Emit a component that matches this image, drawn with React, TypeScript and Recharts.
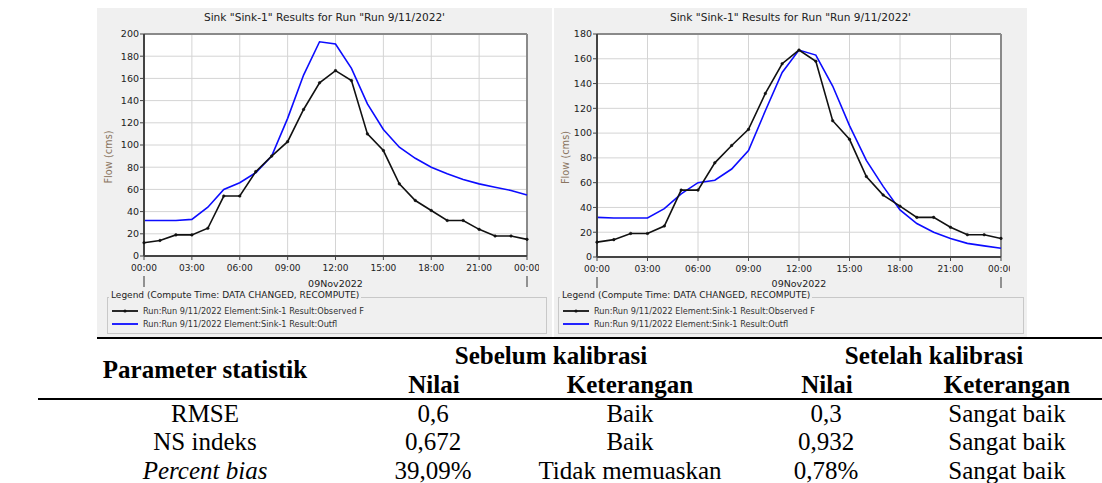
import { LineChart, Line, XAxis, YAxis, CartesianGrid, ReferenceLine } from "recharts";

// Hourly flow on 09Nov2022 (cms)
const HOURS = [0, 1, 2, 3, 4, 5, 6, 7, 8, 9, 10, 11, 12, 13, 14, 15, 16, 17, 18, 19, 20, 21, 22, 23, 24];
const OBSERVED = [12, 14, 19, 19, 25, 54, 54, 76, 90, 103, 132, 156, 167, 158, 110, 95, 65, 50, 41, 32, 32, 24, 18, 18, 15];
const OUTFLOW_BEFORE = [32, 32, 32, 33, 44, 60, 66, 75, 90, 124, 163, 193, 191, 169, 137, 114, 98, 88, 80, 74, 69, 65, 62, 59, 55];
const OUTFLOW_AFTER = [32, 31.5, 31.5, 31.5, 39, 51, 60, 62, 71, 86, 118, 149, 167, 163, 138, 106, 78, 57, 38, 27, 20, 15, 11, 9, 7];
const X_TICKS = [0, 3, 6, 9, 12, 15, 18, 21, 24];

const TITLE = "Sink \"Sink-1\" Results for Run \"Run 9/11/2022'";
const LEGEND_TITLE = "Legend (Compute Time: DATA CHANGED, RECOMPUTE)";
const LEGEND_OBS = "Run:Run 9/11/2022 Element:Sink-1 Result:Observed F";
const LEGEND_OUT = "Run:Run 9/11/2022 Element:Sink-1 Result:Outfl";

// Statistics table
const STAT_NAMES = ["RMSE", "NS indeks", "Percent bias"];
const BEFORE_VALUES = ["0,6", "0,672", "39,09%"];
const BEFORE_NOTES = ["Baik", "Baik", "Tidak memuaskan"];
const AFTER_VALUES = ["0,3", "0,932", "0,78%"];
const AFTER_NOTES = ["Sangat baik", "Sangat baik", "Sangat baik"];

const UI_FONT = "'DejaVu Sans', sans-serif";
const SERIF = "'Liberation Serif', 'Times New Roman', serif";

const fmtHour = (h: number) => `${String(h % 24).padStart(2, "0")}:00`;

function TimeTick(props: any) {
  const { x, y, payload } = props;
  const v = payload.value;
  return (
    <g>
      <text x={x} y={y} dy={9} textAnchor="middle" fontSize={9} fontFamily={UI_FONT} fill="#222">
        {fmtHour(v)}
      </text>
      {(v === 0 || v === 24) && <line x1={x} x2={x} y1={y + 14} y2={y + 25} stroke="#333" strokeWidth={1} />}
    </g>
  );
}

interface PanelProps {
  left: number;
  width: number;
  clipWidth: number;
  axisWidth: number;
  plotWidth: number;
  plotHeight: number;
  yMax: number;
  outflow: number[];
  legendLeft: number;
  legendWidth: number;
}

function HmsPanel(p: PanelProps) {
  const data = HOURS.map((h, i) => ({ h, obs: OBSERVED[i], out: p.outflow[i] }));
  const yTicks: number[] = [];
  for (let v = 0; v <= p.yMax; v += 20) yTicks.push(v);
  const chartH = 290;
  const top = 26;

  return (
    <div style={{ position: "absolute", left: p.left, top: 8, width: p.width, height: 330, background: "#f0f0f0" }}>
      <div style={{ position: "absolute", left: 0, top: 3, width: p.width, textAlign: "center", fontFamily: UI_FONT, fontSize: 10.6, color: "#222" }}>
        {TITLE}
      </div>
      <div style={{ position: "absolute", left: 0, top: 0, width: p.clipWidth, height: chartH, overflow: "hidden" }}>
        <LineChart
          width={p.clipWidth}
          height={chartH}
          data={data}
          margin={{ top, right: p.clipWidth - p.axisWidth - p.plotWidth, bottom: 0, left: 0 }}
        >
          <CartesianGrid stroke="#d4d4d4" strokeWidth={1} fill="#ffffff" fillOpacity={1} />
          <XAxis
            dataKey="h"
            type="number"
            domain={[0, 24]}
            ticks={X_TICKS}
            interval={0}
            height={chartH - top - p.plotHeight}
            tick={<TimeTick />}
            tickSize={4}
            tickMargin={2}
            axisLine={{ stroke: "#444", strokeWidth: 2 }}
            tickLine={{ stroke: "#444" }}
            label={{ value: "09Nov2022", position: "insideBottom", offset: 11, fontSize: 9.5, fontFamily: UI_FONT, fill: "#222" }}
          />
          <YAxis
            type="number"
            domain={[0, p.yMax]}
            ticks={yTicks}
            interval={0}
            width={p.axisWidth}
            tickSize={4}
            tickMargin={1}
            tick={{ fontSize: 9.5, fontFamily: UI_FONT, fill: "#222" }}
            axisLine={{ stroke: "#444", strokeWidth: 2 }}
            tickLine={{ stroke: "#444" }}
            label={({ viewBox }: any) => {
              const cx = 11;
              const cy = viewBox.y + viewBox.height / 2 + 12;
              return (
                <text x={cx} y={cy} transform={`rotate(-90 ${cx} ${cy})`} textAnchor="middle" dominantBaseline="central" fontSize={9.8} fontFamily={UI_FONT} fill="#8a7560">
                  Flow (cms)
                </text>
              );
            }}
          />
          <ReferenceLine y={p.yMax} stroke="#8a8a8a" strokeWidth={2} />
          <ReferenceLine x={24} stroke="#8a8a8a" strokeWidth={2} />
          <Line dataKey="out" stroke="#0c0cff" strokeWidth={1.6} dot={false} isAnimationActive={false} />
          <Line dataKey="obs" stroke="#111" strokeWidth={1.6} dot={{ r: 1.3, fill: "#111", stroke: "#111", strokeWidth: 0.5 }} isAnimationActive={false} />
        </LineChart>
      </div>
      {/* legend group box */}
      <div style={{ position: "absolute", left: p.legendLeft, top: 289, width: p.legendWidth, height: 37, border: "1px solid #c8c8c8", boxSizing: "border-box" }} />
      <div style={{ position: "absolute", left: p.legendLeft + 2, top: 282, padding: "0 2px", background: "#f0f0f0", fontFamily: UI_FONT, fontSize: 9, color: "#222", whiteSpace: "nowrap" }}>
        {LEGEND_TITLE}
      </div>
      {[
        { text: LEGEND_OBS, color: "#111", marker: true, y: 303 },
        { text: LEGEND_OUT, color: "#0c0cff", marker: false, y: 316 },
      ].map((e) => (
        <div key={e.text} style={{ position: "absolute", left: p.legendLeft + 5, top: e.y - 6, height: 12, display: "flex", alignItems: "center", whiteSpace: "nowrap" }}>
          <svg width={26} height={12} style={{ display: "block" }}>
            <line x1={0} x2={26} y1={6} y2={6} stroke={e.color} strokeWidth={1.8} />
            {e.marker && <circle cx={13} cy={6} r={1.6} fill={e.color} />}
          </svg>
          <span style={{ marginLeft: 5, fontFamily: UI_FONT, fontSize: 8.2, color: "#333" }}>{e.text}</span>
        </div>
      ))}
    </div>
  );
}

function Cell({ x, y, text, bold, italic }: { x: number; y: number; text: string; bold?: boolean; italic?: boolean }) {
  return (
    <div
      style={{
        position: "absolute",
        left: x,
        top: y,
        transform: "translate(-50%, -50%)",
        whiteSpace: "nowrap",
        fontFamily: SERIF,
        fontSize: 25,
        lineHeight: 1,
        fontWeight: bold ? 700 : 400,
        fontStyle: italic ? "italic" : "normal",
        color: "#000",
      }}
    >
      {text}
    </div>
  );
}

export default function App() {
  const rowY = [413, 441, 470];
  return (
    <div style={{ position: "relative", width: 1102, height: 483, background: "#fff", overflow: "hidden" }}>
      <style>{"body{margin:0}"}</style>
      <HmsPanel left={97} width={455} clipWidth={442} axisWidth={47} plotWidth={383} plotHeight={222} yMax={200} outflow={OUTFLOW_BEFORE} legendLeft={10} legendWidth={440} />
      <HmsPanel left={554} width={473} clipWidth={456} axisWidth={43} plotWidth={404} plotHeight={223} yMax={180} outflow={OUTFLOW_AFTER} legendLeft={4} legendWidth={466} />

      {/* table rules */}
      <div style={{ position: "absolute", left: 97, top: 337, width: 1005, height: 2, background: "#000" }} />
      <div style={{ position: "absolute", left: 38, top: 398, width: 1064, height: 2, background: "#000" }} />

      <Cell x={205} y={369} text="Parameter statistik" bold />
      <Cell x={551} y={355} text="Sebelum kalibrasi" bold />
      <Cell x={934} y={355} text="Setelah kalibrasi" bold />
      <Cell x={434} y={384} text="Nilai" bold />
      <Cell x={630} y={384} text="Keterangan" bold />
      <Cell x={827} y={384} text="Nilai" bold />
      <Cell x={1007} y={384} text="Keterangan" bold />
      {STAT_NAMES.map((name, i) => (
        <div key={name}>
          <Cell x={205} y={rowY[i]} text={name} italic={name === "Percent bias"} />
          <Cell x={433} y={rowY[i]} text={BEFORE_VALUES[i]} />
          <Cell x={630} y={rowY[i]} text={BEFORE_NOTES[i]} />
          <Cell x={826} y={rowY[i]} text={AFTER_VALUES[i]} />
          <Cell x={1007} y={rowY[i]} text={AFTER_NOTES[i]} />
        </div>
      ))}
    </div>
  );
}
